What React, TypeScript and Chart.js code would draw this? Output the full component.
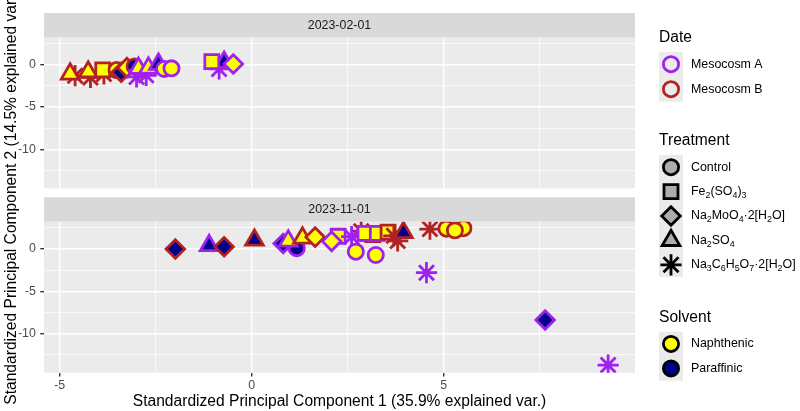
import React, { useEffect, useRef } from "react";
import { Chart, registerables } from "chart.js";

Chart.register(...registerables);

const FONT = '"Liberation Sans", Arial, Helvetica, sans-serif';
const SMALL_TEXT = 12.4;
const TITLE_TEXT = 15.6;

// Facet strip labels
const DATES = ["2023-02-01", "2023-11-01"];

// Axis limits and breaks (labelled breaks are the major grid lines)
const PC1_LIMITS = [-5.41, 9.98];
const PC2_LIMITS = [-14.6, 3.22];
const PC1_BREAKS = [-5, -2.5, 0, 2.5, 5, 7.5];
const PC1_LABELLED = [-5, 0, 5];
const PC2_BREAKS = [-12.5, -10, -7.5, -5, -2.5, 0, 2.5];
const PC2_LABELLED = [-10, -5, 0];

const X_TITLE = "Standardized Principal Component 1 (35.9% explained var.)";
const Y_TITLE = "Standardized Principal Component 2 (14.5% explained var.)";

// Legend entries ("_" marks the next character as a subscript)
const MESOCOSM_KEYS = ["A", "B"];
const MESOCOSM_LABELS = ["Mesocosm A", "Mesocosm B"];
const TREATMENT_KEYS = ["Control", "Fe", "Mo", "SO4", "Cit"];
const TREATMENT_LABELS = [
  "Control",
  "Fe_2(SO_4)_3",
  "Na_2MoO_4·2[H_2O]",
  "Na_2SO_4",
  "Na_3C_6H_5O_7·2[H_2O]",
];
const SOLVENT_KEYS = ["N", "P"];
const SOLVENT_LABELS = ["Naphthenic", "Paraffinic"];

// 2023-02-01 scores
const FEB_PC1 = [-4.6, -4.2, -3.85, -4.73, -4.26, -3.88, -3.52, -3.4, -3.25, -3.05, -3.0, -2.75, -2.95, -2.69, -2.43, -2.28, -2.09, -0.85, -0.72, -1.04, -0.48];
const FEB_PC2 = [-1.3, -1.5, -1.1, -1.1, -0.85, -0.62, -0.63, -0.9, -0.35, -0.2, -1.45, -1.25, -0.43, -0.4, 0.05, -0.5, -0.43, -0.5, 0.3, 0.35, 0.08];
const FEB_MESOCOSM = ["B", "B", "B", "B", "B", "B", "B", "B", "B", "B", "A", "A", "A", "A", "A", "A", "A", "A", "A", "A", "A"];
const FEB_TREATMENT = ["Cit", "Cit", "Cit", "SO4", "SO4", "Fe", "Control", "Mo", "Mo", "Control", "Cit", "Cit", "SO4", "SO4", "SO4", "Control", "Control", "Cit", "SO4", "Fe", "Mo"];
const FEB_SOLVENT = ["N", "N", "P", "N", "N", "N", "N", "P", "N", "P", "N", "P", "N", "N", "P", "N", "N", "P", "P", "N", "N"];

// 2023-11-01 scores
const NOV_PC1 = [-1.99, -1.11, -0.72, 0.07, 1.17, 0.82, 0.95, 1.32, 1.65, 2.25, 2.08, 2.85, 3.15, 2.6, 2.95, 3.27, 2.71, 3.23, 3.55, 3.7, 3.8, 3.95, 4.64, 5.07, 5.51, 5.29, 4.55, 7.64, 9.28];
const NOV_PC2 = [0.0, 0.4, 0.27, 1.05, 0.1, 0.65, 0.95, 1.3, 1.4, 1.5, 0.9, 2.1, 1.7, 1.45, 1.85, 1.85, -0.32, -0.71, 2.0, 1.55, 0.95, 1.95, 2.35, 2.4, 2.45, 2.2, -2.8, -8.38, -13.7];
const NOV_MESOCOSM = ["B", "A", "B", "B", "A", "A", "A", "B", "B", "A", "A", "B", "B", "A", "A", "A", "A", "A", "B", "B", "B", "B", "B", "B", "B", "B", "A", "A", "A"];
const NOV_TREATMENT = ["Mo", "SO4", "Mo", "SO4", "Control", "Mo", "SO4", "SO4", "Mo", "Fe", "Mo", "Cit", "Fe", "Cit", "Fe", "Fe", "Control", "Control", "Fe", "Cit", "Cit", "SO4", "Cit", "Control", "Control", "Control", "Cit", "Mo", "Cit"];
const NOV_SOLVENT = ["P", "P", "P", "P", "P", "P", "N", "N", "N", "N", "N", "N", "N", "P", "N", "N", "N", "N", "N", "P", "N", "P", "P", "N", "N", "N", "P", "P", "N"];

// Aesthetic mappings
const MESOCOSM_COLOURS: Record<string, string> = { A: "#A020F0", B: "#B22222" };
const SOLVENT_FILLS: Record<string, string> = { N: "#FFFF00", P: "#00008B" };
const SHAPES: Record<string, string> = { Control: "circle", Fe: "rect", Mo: "rectRot", SO4: "triangle", Cit: "star" };
const SHAPE_RADII: Record<string, number> = { circle: 7.6, rect: 9.9, rectRot: 9.3, triangle: 10.2, star: 10.6 };
const STROKE = 2.8;

// Layout
const PANEL_LEFT = 44;
const PANEL_RIGHT = 635;
const PANEL_TOPS = [37.4, 221.7];
const PANEL_BOTTOMS = [188.4, 372.7];
const STRIP_H = 24.4;
const W = 800;
const H = 411;

function pathShape(ctx: CanvasRenderingContext2D, style: string, x: number, y: number, r: number) {
  ctx.beginPath();
  if (style === "circle") {
    ctx.arc(x, y, r, 0, Math.PI * 2);
  } else if (style === "rect") {
    const s = r * Math.SQRT1_2;
    ctx.rect(x - s, y - s, 2 * s, 2 * s);
  } else if (style === "rectRot") {
    ctx.moveTo(x, y - r);
    ctx.lineTo(x + r, y);
    ctx.lineTo(x, y + r);
    ctx.lineTo(x - r, y);
    ctx.closePath();
  } else if (style === "triangle") {
    ctx.moveTo(x, y - r);
    ctx.lineTo(x + r * Math.sin((2 * Math.PI) / 3), y + r * 0.5);
    ctx.lineTo(x - r * Math.sin((2 * Math.PI) / 3), y + r * 0.5);
    ctx.closePath();
  } else if (style === "star") {
    ctx.moveTo(x - r, y);
    ctx.lineTo(x + r, y);
    ctx.moveTo(x, y - r);
    ctx.lineTo(x, y + r);
    const d = r * Math.SQRT1_2;
    ctx.moveTo(x - d, y - d);
    ctx.lineTo(x + d, y + d);
    ctx.moveTo(x - d, y + d);
    ctx.lineTo(x + d, y - d);
  }
}

function drawKeyShape(ctx: CanvasRenderingContext2D, style: string, x: number, y: number, fill: string | null, stroke: string) {
  pathShape(ctx, style, x, y, SHAPE_RADII[style]);
  if (fill && style !== "star") {
    ctx.fillStyle = fill;
    ctx.fill();
  }
  ctx.strokeStyle = stroke;
  ctx.lineWidth = STROKE;
  ctx.stroke();
}

// Draws text where "_x" puts x as a subscript
function drawRichText(ctx: CanvasRenderingContext2D, text: string, x: number, y: number, size: number) {
  const runs: { t: string; sub: boolean }[] = [];
  for (let i = 0; i < text.length; i++) {
    if (text[i] === "_" && i + 1 < text.length) {
      runs.push({ t: text[i + 1], sub: true });
      i++;
    } else if (runs.length && !runs[runs.length - 1].sub) {
      runs[runs.length - 1].t += text[i];
    } else {
      runs.push({ t: text[i], sub: false });
    }
  }
  let cx = x;
  ctx.textAlign = "left";
  ctx.textBaseline = "middle";
  for (const run of runs) {
    const s = run.sub ? size * 0.72 : size;
    ctx.font = `${s}px ${FONT}`;
    ctx.fillText(run.t, cx, run.sub ? y + size * 0.3 : y);
    cx += ctx.measureText(run.t).width;
  }
}

function drawLegend(ctx: CanvasRenderingContext2D) {
  const left = 659;
  const keyW = 24;
  const labelX = 691;
  ctx.save();

  const title = (t: string, y: number) => {
    ctx.fillStyle = "#000000";
    ctx.font = `${TITLE_TEXT}px ${FONT}`;
    ctx.textAlign = "left";
    ctx.textBaseline = "middle";
    ctx.fillText(t, left, y);
  };
  const keyBox = (top: number, n: number, h: number) => {
    ctx.fillStyle = "#EBEBEB";
    ctx.fillRect(left, top, keyW, n * h);
  };

  // Date
  title("Date", 37.5);
  keyBox(51.7, 2, 25);
  MESOCOSM_KEYS.forEach((k, i) => {
    const cy = 51.7 + 25 * i + 12.5;
    drawKeyShape(ctx, "circle", left + keyW / 2, cy, null, MESOCOSM_COLOURS[k]);
    ctx.fillStyle = "#000000";
    drawRichText(ctx, MESOCOSM_LABELS[i], labelX, cy, SMALL_TEXT);
  });

  // Treatment
  title("Treatment", 141);
  keyBox(155, 5, 24.4);
  TREATMENT_KEYS.forEach((k, i) => {
    const cy = 155 + 24.4 * i + 12.2;
    drawKeyShape(ctx, SHAPES[k], left + keyW / 2, cy, "#ADADAD", "#000000");
    ctx.fillStyle = "#000000";
    drawRichText(ctx, TREATMENT_LABELS[i], labelX, cy, SMALL_TEXT);
  });

  // Solvent
  title("Solvent", 318);
  keyBox(331.7, 2, 24.5);
  SOLVENT_KEYS.forEach((k, i) => {
    const cy = 331.7 + 24.5 * i + 12.25;
    drawKeyShape(ctx, "circle", left + keyW / 2, cy, SOLVENT_FILLS[k], "#000000");
    ctx.fillStyle = "#000000";
    drawRichText(ctx, SOLVENT_LABELS[i], labelX, cy, SMALL_TEXT);
  });

  ctx.restore();
}

function panelDecor(label: string) {
  return {
    id: "panelDecor",
    beforeDraw(chart: any) {
      const { ctx, chartArea: a } = chart;
      ctx.save();
      ctx.fillStyle = "#EBEBEB";
      ctx.fillRect(a.left, a.top, a.right - a.left, a.bottom - a.top);
      ctx.fillStyle = "#D9D9D9";
      ctx.fillRect(a.left, a.top - STRIP_H, a.right - a.left, STRIP_H);
      ctx.fillStyle = "#1A1A1A";
      ctx.font = `${SMALL_TEXT}px ${FONT}`;
      ctx.textAlign = "center";
      ctx.textBaseline = "middle";
      ctx.fillText(label, (a.left + a.right) / 2, a.top - STRIP_H / 2);
      ctx.restore();
    },
  };
}

const outerDecor = {
  id: "outerDecor",
  afterDraw(chart: any) {
    const { ctx } = chart;
    ctx.save();
    ctx.translate(12, 198);
    ctx.rotate(-Math.PI / 2);
    ctx.fillStyle = "#000000";
    ctx.font = `${TITLE_TEXT}px ${FONT}`;
    ctx.textAlign = "center";
    ctx.textBaseline = "middle";
    ctx.fillText(Y_TITLE, 0, 0);
    ctx.restore();
    drawLegend(ctx);
  },
};

function axis(limits: number[], breaks: number[], labelled: number[], horizontal: boolean, size: number, showTicks: boolean, title?: string) {
  const isMajor = (c: any) => !!c.tick && labelled.includes(c.tick.value);
  return {
    type: "linear",
    min: limits[0],
    max: limits[1],
    afterBuildTicks: (scale: any) => {
      scale.ticks = breaks.map((v) => ({ value: v }));
    },
    afterFit: (scale: any) => {
      if (horizontal) scale.height = size;
      else scale.width = size;
    },
    border: { display: false },
    grid: {
      color: "#FFFFFF",
      lineWidth: (c: any) => (isMajor(c) ? 1.4 : 0.7),
      drawTicks: showTicks,
      tickLength: 3.7,
      tickWidth: 1.4,
      tickColor: (c: any) => (isMajor(c) ? "#333333" : "rgba(0,0,0,0)"),
    },
    ticks: {
      display: showTicks,
      autoSkip: false,
      maxRotation: 0,
      padding: horizontal ? 1.5 : 4.5,
      color: "#4D4D4D",
      font: { family: FONT, size: SMALL_TEXT },
      callback: (v: number) => (labelled.includes(v) ? String(v) : ""),
    },
    title: title
      ? {
          display: true,
          text: title,
          color: "#000000",
          font: { family: FONT, size: TITLE_TEXT, lineHeight: 1.2 },
          padding: { top: 0, bottom: 0 },
        }
      : { display: false },
  };
}

function panelConfig(
  idx: number,
  xs: number[],
  ys: number[],
  meso: string[],
  treat: string[],
  solv: string[],
  isBottom: boolean
): any {
  const styles = treat.map((t) => SHAPES[t]);
  return {
    type: "scatter",
    data: {
      datasets: [
        {
          data: xs.map((x, i) => ({ x, y: ys[i] })),
          pointStyle: styles,
          pointRadius: styles.map((s) => SHAPE_RADII[s]),
          pointHoverRadius: styles.map((s) => SHAPE_RADII[s]),
          pointBackgroundColor: solv.map((s) => SOLVENT_FILLS[s]),
          pointBorderColor: meso.map((m) => MESOCOSM_COLOURS[m]),
          pointBorderWidth: STROKE,
          pointHoverBorderWidth: STROKE,
          clip: 0,
        },
      ],
    },
    options: {
      responsive: false,
      animation: false,
      events: [],
      layout: {
        padding: {
          left: 0,
          right: W - PANEL_RIGHT,
          top: PANEL_TOPS[idx],
          bottom: isBottom ? 0 : H - PANEL_BOTTOMS[idx],
        },
      },
      plugins: { legend: { display: false }, tooltip: { enabled: false } },
      scales: {
        x: axis(PC1_LIMITS, PC1_BREAKS, PC1_LABELLED, true, isBottom ? H - PANEL_BOTTOMS[idx] : 0, isBottom, isBottom ? X_TITLE : undefined),
        y: axis(PC2_LIMITS, PC2_BREAKS, PC2_LABELLED, false, PANEL_LEFT, true),
      },
    },
    plugins: isBottom ? [panelDecor(DATES[idx]), outerDecor] : [panelDecor(DATES[idx])],
  };
}

export default function App() {
  const topRef = useRef<HTMLCanvasElement>(null);
  const bottomRef = useRef<HTMLCanvasElement>(null);

  useEffect(() => {
    Chart.defaults.font.family = FONT;
    const bottom = new Chart(
      bottomRef.current as HTMLCanvasElement,
      panelConfig(1, NOV_PC1, NOV_PC2, NOV_MESOCOSM, NOV_TREATMENT, NOV_SOLVENT, true)
    );
    const top = new Chart(
      topRef.current as HTMLCanvasElement,
      panelConfig(0, FEB_PC1, FEB_PC2, FEB_MESOCOSM, FEB_TREATMENT, FEB_SOLVENT, false)
    );
    return () => {
      top.destroy();
      bottom.destroy();
    };
  }, []);

  const canvasStyle: React.CSSProperties = { position: "absolute", left: 0, top: 0, width: W, height: H };
  return (
    <div style={{ position: "fixed", left: 0, top: 0, width: W, height: H, background: "#FFFFFF" }}>
      <canvas ref={bottomRef} width={W} height={H} style={canvasStyle} />
      <canvas ref={topRef} width={W} height={H} style={canvasStyle} />
    </div>
  );
}
